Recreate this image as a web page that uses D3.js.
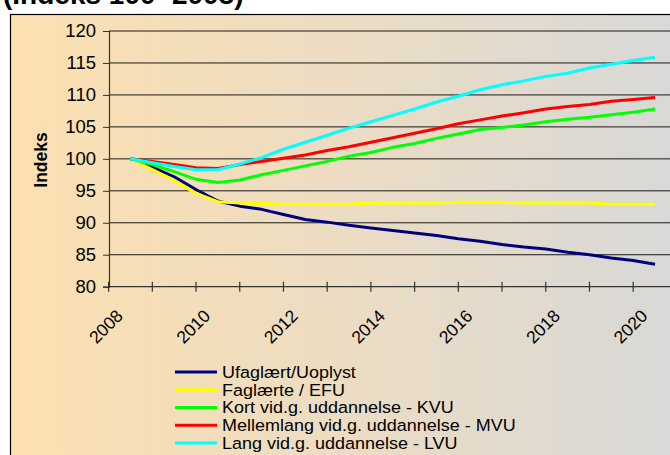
<!DOCTYPE html>
<html>
<head>
<meta charset="utf-8">
<script src="https://cdn.jsdelivr.net/npm/d3@7/dist/d3.min.js"></script>
<style>
  html, body { margin: 0; padding: 0; background: #fff; }
  svg { display: block; font-family: "Liberation Sans", Arial, sans-serif; }
</style>
</head>
<body>
<svg id="chart" width="670" height="455"></svg>
<script>
// Half-yearly index values, 2008 = 100
const periods = [2008, 2008.5, 2009, 2009.5, 2010, 2010.5, 2011, 2011.5, 2012, 2012.5,
                 2013, 2013.5, 2014, 2014.5, 2015, 2015.5, 2016, 2016.5, 2017, 2017.5,
                 2018, 2018.5, 2019, 2019.5, 2020];

const ufaglaert = [100, 98.7, 97.2, 95.2, 93.4, 92.6, 92.1, 91.3, 90.5, 90.1,
                   89.6, 89.2, 88.8, 88.4, 88.0, 87.5, 87.1, 86.6, 86.2, 85.9,
                   85.4, 85.0, 84.5, 84.1, 83.5];
const faglaerte = [100, 98.3, 96.6, 94.6, 93.3, 93.1, 93.0, 92.9, 92.9, 92.9,
                   92.9, 93.1, 93.1, 93.1, 93.1, 93.2, 93.2, 93.2, 93.1, 93.1,
                   93.1, 93.1, 92.9, 92.9, 92.9];
const kvu = [100, 99.1, 98.0, 96.8, 96.3, 96.7, 97.5, 98.2, 98.9, 99.6,
             100.4, 101.0, 101.8, 102.4, 103.2, 103.9, 104.6, 104.9, 105.3, 105.8,
             106.2, 106.5, 106.9, 107.3, 107.8];
const mvu = [100, 99.6, 99.1, 98.6, 98.5, 99.1, 99.6, 100.1, 100.6, 101.3,
             101.9, 102.6, 103.3, 104.0, 104.7, 105.5, 106.1, 106.7, 107.2, 107.8,
             108.2, 108.5, 109.0, 109.3, 109.6];
const lvu = [100, 99.4, 98.8, 98.3, 98.3, 99.2, 100.2, 101.5, 102.6, 103.7,
             104.8, 105.8, 106.8, 107.8, 108.9, 109.8, 110.8, 111.6, 112.2, 112.9,
             113.4, 114.2, 114.8, 115.4, 115.9];

const seriesNames = ["Ufaglært/Uoplyst", "Faglærte / EFU", "Kort vid.g. uddannelse - KVU",
                     "Mellemlang vid.g. uddannelse - MVU", "Lang vid.g. uddannelse - LVU"];
const seriesColors = ["#000080", "#ffff00", "#00ff00", "#ff0000", "#00ffff"];
const seriesValues = [ufaglaert, faglaerte, kvu, mvu, lvu];

const yTicks = [80, 85, 90, 95, 100, 105, 110, 115, 120];
const xTickYears = [2007.5, 2008.5, 2009.5, 2010.5, 2011.5, 2012.5, 2013.5,
                    2014.5, 2015.5, 2016.5, 2017.5, 2018.5, 2019.5];
const xLabelYears = [2008, 2010, 2012, 2014, 2016, 2018, 2020];

const titleText = "(Indeks 100=2008)";
const yTitle = "Indeks";

const svg = d3.select("#chart");

// background panel gradient
const defs = svg.append("defs");
const grad = defs.append("linearGradient").attr("id", "panelGrad")
  .attr("x1", "0").attr("y1", "0").attr("x2", "1").attr("y2", "0");
grad.append("stop").attr("offset", "0").attr("stop-color", "#fce0b0");
grad.append("stop").attr("offset", "0.5").attr("stop-color", "#ebdcc4");
grad.append("stop").attr("offset", "1").attr("stop-color", "#d6d8d9");

svg.append("rect")
  .attr("x", 10.5).attr("y", 14.5)
  .attr("width", 700).attr("height", 500)
  .attr("fill", "url(#panelGrad)")
  .attr("stroke", "#000").attr("stroke-width", 1.2);

svg.append("text")
  .attr("x", 3).attr("y", 3.5)
  .attr("font-size", 28).attr("font-weight", "bold")
  .attr("fill", "#000")
  .text(titleText);

const plotLeft = 109, plotTop = 31, plotBottom = 286.7;

const x = d3.scaleLinear().domain([2007.5, 2020.5]).range([108.6, 676.9]);
const y = d3.scaleLinear().domain([80, 120]).range([plotBottom, plotTop]);

// gridlines
svg.append("g")
  .selectAll("line")
  .data(yTicks.filter(d => d > 80))
  .join("line")
  .attr("x1", plotLeft).attr("x2", 670)
  .attr("y1", d => y(d)).attr("y2", d => y(d))
  .attr("stroke", "#1a1a1a").attr("stroke-width", 1);

// y axis
const yAxis = d3.axisLeft(y).tickValues(yTicks).tickSize(6).tickPadding(7);
const gy = svg.append("g").attr("transform", `translate(${plotLeft},0)`).call(yAxis);
gy.select(".domain").attr("stroke", "#333").attr("stroke-width", 1.2);
gy.selectAll(".tick line").attr("stroke", "#333");
gy.selectAll(".tick text").attr("font-size", 18.5).attr("fill", "#000")
  .attr("font-family", "'Liberation Sans', Arial, sans-serif");

// x axis
svg.append("line")
  .attr("x1", plotLeft).attr("x2", 670)
  .attr("y1", plotBottom).attr("y2", plotBottom)
  .attr("stroke", "#333").attr("stroke-width", 1.2);

svg.append("g").selectAll("line")
  .data(xTickYears)
  .join("line")
  .attr("x1", d => x(d)).attr("x2", d => x(d))
  .attr("y1", plotBottom - 5).attr("y2", plotBottom + 5)
  .attr("stroke", "#333").attr("stroke-width", 1.2);

svg.append("g").selectAll("text")
  .data(xLabelYears)
  .join("text")
  .attr("transform", d => `translate(${x(d) - 6.5},317) rotate(-45)`)
  .attr("text-anchor", "end")
  .attr("font-size", 17.5)
  .attr("fill", "#000")
  .text(d => d);

// y title
svg.append("text")
  .attr("transform", "translate(47,160) rotate(-90)")
  .attr("text-anchor", "middle")
  .attr("font-size", 17.5).attr("font-weight", "bold")
  .text(yTitle);

// lines
const line = d3.line()
  .x((d, i) => x(periods[i]))
  .y(d => y(d));

svg.append("g")
  .selectAll("path")
  .data(seriesValues)
  .join("path")
  .attr("d", d => line(d))
  .attr("fill", "none")
  .attr("stroke", (d, i) => seriesColors[i])
  .attr("stroke-width", 3)
  .attr("stroke-linejoin", "round");

// legend
const legend = svg.append("g").attr("transform", "translate(175,372)");
const rows = legend.selectAll("g")
  .data(seriesNames)
  .join("g")
  .attr("transform", (d, i) => `translate(0,${i * 17.75})`);
rows.append("line")
  .attr("x1", 0).attr("x2", 42)
  .attr("stroke", (d, i) => seriesColors[i])
  .attr("stroke-width", 3);
rows.append("text")
  .attr("transform", "translate(47,0) scale(1.09,1)")
  .attr("dy", "0.36em")
  .attr("font-size", 16.5)
  .attr("fill", "#000")
  .text(d => d);
</script>
</body>
</html>
